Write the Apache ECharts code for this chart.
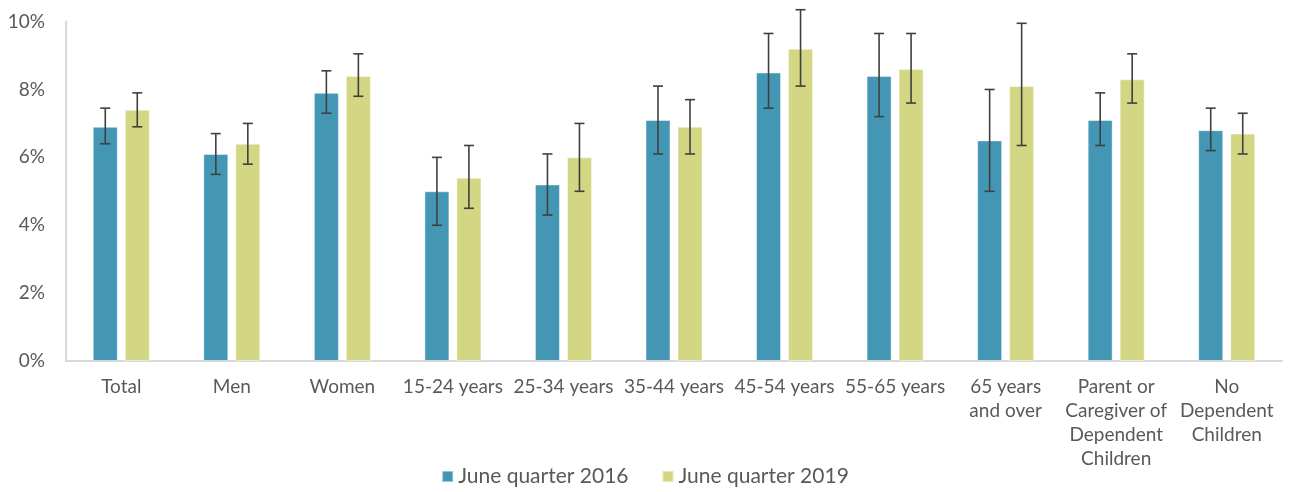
<!DOCTYPE html>
<html><head><meta charset="utf-8">
<script src="https://cdn.jsdelivr.net/npm/echarts@6/dist/echarts.min.js"></script>
<style>html,body{margin:0;padding:0;background:#fff}#c{width:1290px;height:492px}</style>
</head><body><div id="c"></div>
<script>
const categories = ['Total','Men','Women','15-24 years','25-34 years','35-44 years','45-54 years','55-65 years','65 years\nand over','Parent or\nCaregiver of\nDependent\nChildren','No\nDependent\nChildren'];
const seriesNames = ['June quarter 2016','June quarter 2019'];
const values2016 = [6.9,6.1,7.9,5.0,5.2,7.1,8.5,8.4,6.5,7.1,6.8];
const low2016    = [6.4,5.5,7.3,4.0,4.3,6.1,7.45,7.2,5.0,6.35,6.2];
const high2016   = [7.45,6.7,8.55,6.0,6.1,8.1,9.65,9.65,8.0,7.9,7.45];
const values2019 = [7.4,6.4,8.4,5.4,6.0,6.9,9.2,8.6,8.1,8.3,6.7];
const low2019    = [6.9,5.8,7.8,4.5,5.0,6.1,8.1,7.6,6.35,7.6,6.1];
const high2019   = [7.9,7.0,9.05,6.35,7.0,7.7,10.35,9.65,9.95,9.05,7.3];
const yTicks = [0,2,4,6,8,10];

const colors = ['#4397B5','#D3D682'];
const textColor = '#595959';
const font = 'Lato';
const barW = 25, offset = 16;

function errSeries(lows, highs, dir) {
  return {
    type: 'custom', z: 10, silent: true,
    data: lows.map((l, i) => [i, l, highs[i]]),
    renderItem: function (params, api) {
      const i = api.value(0);
      const lo = api.coord([i, api.value(1)]);
      const hi = api.coord([i, api.value(2)]);
      const x = lo[0] + dir * offset;
      const cw = 5;
      const st = {stroke: '#404040', lineWidth: 1.6};
      return {type: 'group', children: [
        {type: 'line', shape: {x1: x, y1: hi[1], x2: x, y2: lo[1]}, style: st},
        {type: 'line', shape: {x1: x - cw, y1: hi[1], x2: x + cw, y2: hi[1]}, style: st},
        {type: 'line', shape: {x1: x - cw, y1: lo[1], x2: x + cw, y2: lo[1]}, style: st}
      ]};
    }
  };
}

const chart = echarts.init(document.getElementById('c'), null, {renderer: 'canvas'});
chart.setOption({
  animation: false,
  textStyle: {fontFamily: font},
  grid: {left: 66, right: 8, top: 21.6, bottom: 131},
  legend: {
    bottom: 0, left: 'center', itemWidth: 11, itemHeight: 11, itemGap: 33,
    icon: 'rect', data: seriesNames,
    textStyle: {fontFamily: font, fontSize: 21, color: textColor}
  },
  xAxis: {
    type: 'category', data: categories,
    axisLine: {lineStyle: {color: '#d9d9d9', width: 2}},
    axisTick: {show: false},
    axisLabel: {interval: 0, margin: 14, fontFamily: font, fontSize: 19, color: textColor, lineHeight: 24}
  },
  yAxis: {
    type: 'value', min: yTicks[0], max: yTicks[yTicks.length-1], interval: 2,
    axisLine: {show: true, lineStyle: {color: '#d9d9d9', width: 2}},
    axisTick: {show: false},
    splitLine: {show: false},
    axisLabel: {formatter: '{value}%', margin: 21, fontFamily: font, fontSize: 19, color: textColor}
  },
  series: [
    {name: seriesNames[0], type: 'bar', data: values2016, barWidth: barW, barGap: '28%',
     itemStyle: {color: colors[0], borderColor: 'rgba(255,255,255,0.45)', borderWidth: 1}},
    {name: seriesNames[1], type: 'bar', data: values2019, barWidth: barW,
     itemStyle: {color: colors[1], borderColor: 'rgba(255,255,255,0.45)', borderWidth: 1}},
    errSeries(low2016, high2016, -1),
    errSeries(low2019, high2019, 1)
  ]
});
</script></body></html>
